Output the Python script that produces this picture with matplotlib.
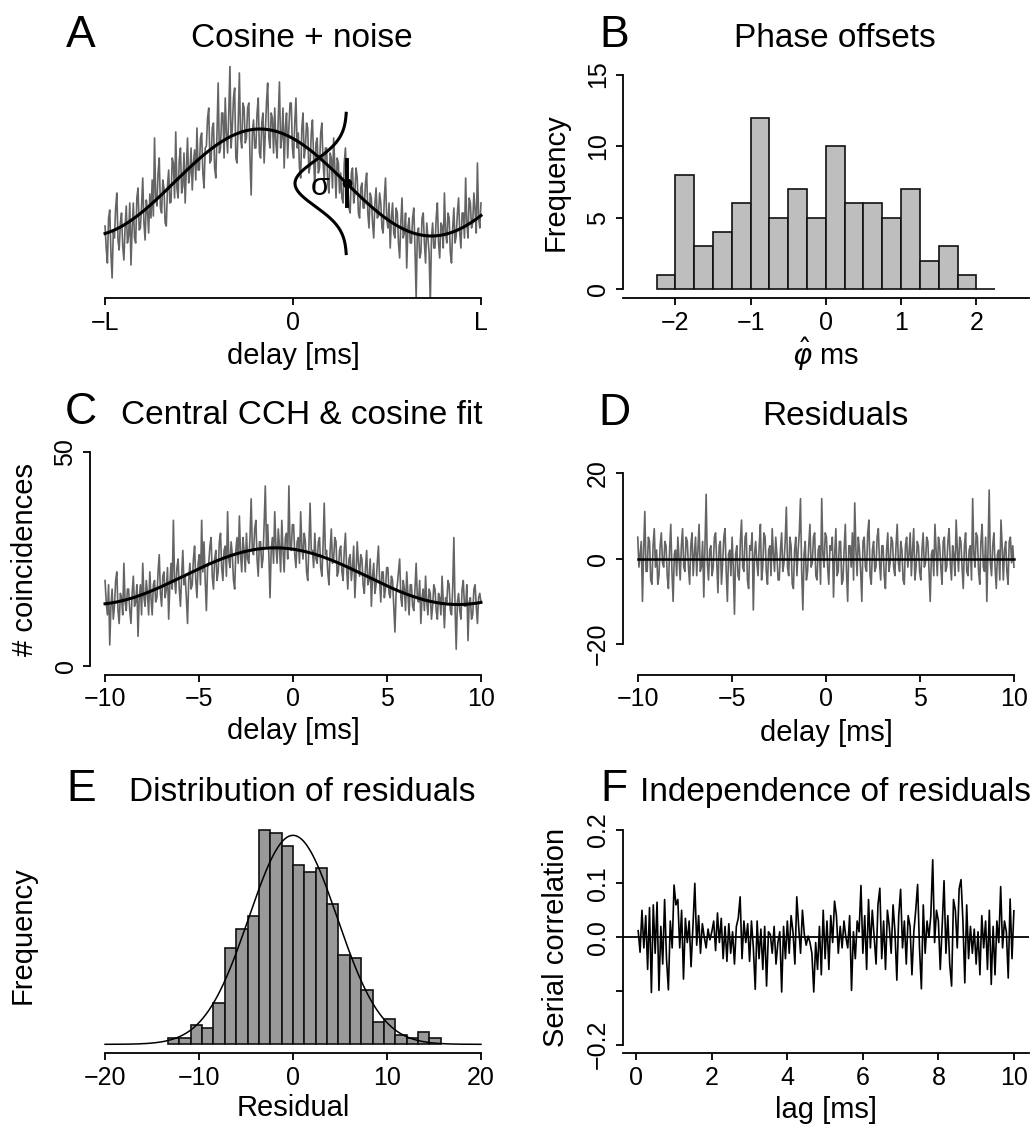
import numpy as np
import matplotlib
matplotlib.use("Agg")
import matplotlib.pyplot as plt

plt.rcParams['font.family'] = ['Liberation Sans', 'DejaVu Sans']
plt.rcParams['mathtext.fontset'] = 'dejavusans'

# ---------------- data ----------------
# A: simulated CCH (arbitrary units, height above axis), delay in units of L
A_vals = [
    72, 50, 35, 80, 88, 45, 20, 66, 60, 90, 105, 58, 48, 75, 85, 52, 38, 70, 92, 55,
    62, 95, 33, 70, 95, 60, 55, 100, 110, 68, 70, 92, 120, 75, 58, 98, 88, 65, 104, 80,
    118, 82, 160, 100, 92, 125, 140, 90, 85, 118, 110, 75, 72, 112, 128, 95, 96, 140, 135, 100,
    166, 110, 100, 138, 150, 105, 112, 145, 95, 130, 160, 115, 125, 150, 108, 135, 148, 118, 170, 128,
    128, 160, 165, 125, 110, 150, 152, 180, 190, 135, 138, 170, 175, 130, 120, 165, 215, 145, 150, 185,
    185, 140, 200, 165, 145, 185, 232, 150, 170, 200, 210, 140, 135, 175, 225, 160, 150, 195, 190, 155,
    160, 190, 195, 140, 103, 165, 178, 150, 150, 185, 200, 145, 140, 175, 185, 135, 165, 195, 215, 160,
    150, 185, 180, 145, 190, 155, 140, 180, 216, 150, 160, 190, 130, 170, 185, 140, 170, 195, 195, 150,
    140, 175, 200, 150, 165, 130, 120, 170, 185, 140, 150, 175, 170, 125, 132, 165, 178, 140, 110, 155,
    160, 125, 130, 165, 175, 135, 118, 150, 150, 115, 105, 145, 140, 110, 160, 130, 100, 140, 135, 105,
    125, 100, 95, 135, 150, 115, 110, 90, 85, 125, 130, 95, 105, 130, 120, 85, 80, 110, 115, 90,
    90, 115, 125, 85, 70, 105, 100, 75, 60, 95, 110, 80, 82, 105, 95, 70, 65, 100, 120, 80,
    70, 95, 50, 80, 95, 65, 60, 90, 85, 55, 40, 75, 100, 60, 65, 85, 30, 70, 80, 55,
    55, 80, 90, 50, 0, 65, 70, 40, 45, 80, 85, 55, 35, 75, 60, 45, -5, 60, 75, 50,
    50, 80, 95, 55, 40, 75, 72, 50, 105, 65, 55, 85, 80, 45, 35, 70, 90, 55, 62, 85,
    100, 65, 50, 85, 85, 60, 120, 75, 60, 100, 95, 70, 75, 105, 88, 65, 135, 80, 70, 95]
A_fit = dict(base=115.5, amp=53.5, period=1.826, peak=-0.176)
A_sigma = dict(x=0.2856, sd=23.0, width=0.275)
A_ticks = [-1, 0, 1]
A_ticklabels = ['\u2212L', '0', 'L']

# B: histogram of phase offsets
B_edges = [-2.25, -2.0, -1.75, -1.5, -1.25, -1.0, -0.75, -0.5, -0.25, 0.0,
           0.25, 0.5, 0.75, 1.0, 1.25, 1.5, 1.75, 2.0, 2.25]
B_counts = [1, 8, 3, 4, 6, 12, 5, 7, 5, 10, 6, 6, 5, 7, 2, 3, 1, 0]

# C: central CCH (counts) and cosine fit
C_vals = [
    20, 15, 12, 19, 5, 14, 18, 11, 14, 20, 22, 13, 10, 17, 16, 12, 24, 15, 13, 18,
    18, 13, 10, 17, 21, 14, 15, 19, 7, 16, 19, 12, 24, 16, 14, 20, 17, 12, 22, 16,
    12, 19, 20, 15, 16, 22, 26, 17, 14, 21, 22, 16, 18, 23, 11, 19, 24, 18, 34, 20,
    17, 23, 25, 18, 14, 21, 27, 19, 21, 16, 10, 20, 24, 18, 19, 25, 28, 20, 16, 24,
    26, 19, 34, 22, 29, 20, 13, 23, 24, 28, 30, 21, 18, 25, 27, 20, 22, 29, 31, 23,
    20, 27, 28, 21, 36, 25, 23, 29, 26, 20, 18, 27, 30, 24, 35, 26, 22, 30, 27, 22,
    31, 25, 24, 30, 39, 27, 26, 32, 34, 25, 21, 29, 29, 23, 25, 33, 42, 28, 33, 26,
    16, 27, 30, 24, 36, 28, 24, 32, 28, 22, 34, 27, 22, 30, 31, 25, 42, 28, 27, 33,
    33, 26, 23, 29, 30, 24, 36, 28, 25, 31, 29, 22, 20, 28, 38, 27, 27, 23, 31, 25,
    24, 29, 30, 23, 21, 28, 38, 26, 27, 22, 19, 27, 32, 24, 25, 30, 29, 21, 22, 27,
    28, 22, 20, 27, 31, 23, 18, 25, 26, 20, 23, 28, 16, 22, 29, 24, 21, 26, 25, 19,
    17, 23, 27, 19, 20, 25, 14, 21, 24, 17, 19, 24, 28, 20, 15, 22, 22, 16, 18, 23,
    23, 17, 16, 21, 20, 14, 8, 17, 19, 22, 25, 16, 14, 20, 18, 13, 22, 17, 12, 19,
    19, 14, 13, 18, 24, 16, 15, 20, 10, 16, 18, 13, 21, 15, 12, 18, 17, 11, 14, 19,
    18, 13, 11, 17, 16, 12, 21, 15, 9, 16, 15, 20, 19, 13, 12, 18, 30, 14, 4, 15,
    17, 13, 11, 18, 20, 14, 14, 19, 6, 15, 16, 11, 12, 18, 19, 14, 10, 16, 17, 15]
C_fit = dict(base=21.0, amp=6.6, period=19.5, peak=-0.96)

# D: residuals
D_vals = [
    5, -2, 1, 4, -10, 2, 11, -3, -3, 5, 4, -5, -6, 3, 7, -2, 2, -6, -4, 3,
    6, -1, -2, 4, 3, -4, -7, 2, 8, -3, -10, 1, 2, -4, 5, 0, -5, 3, 7, -2,
    -3, 5, 4, -2, -6, 3, 6, -4, 1, 5, -4, 2, 8, -3, -2, 4, -9, 3, 15, -1,
    -5, 2, 3, -4, -2, 5, 6, -1, -8, 3, 4, -6, -1, 5, 7, -3, -10, 1, 2, -4,
    5, -2, -13, 1, 3, -4, -5, 4, 9, -2, -3, 5, 6, -5, -7, 3, 2, 6, -12, 1,
    4, -1, -4, 3, 8, -5, -2, 6, 5, -3, -6, 2, 3, -4, 7, 1, -3, 5, 1, -5,
    -5, 2, 6, -3, -1, 4, 12, -2, -4, 5, 3, -6, -7, 2, 5, -4, 2, 6, 14, -3,
    -12, 1, 4, -5, -3, 3, 8, -2, -1, 5, 6, -4, -5, 2, 3, -6, 14, 1, -2, 6,
    5, -2, -6, 3, 2, 5, -9, 1, 7, -4, -3, 4, 4, -6, -5, 2, 8, -3, -10, 3,
    3, -2, 6, -5, 13, 2, -4, 5, 2, -3, -10, 4, 5, -2, -3, 6, 9, -4, -6, 2,
    4, -3, -2, 5, 7, -1, -5, 3, 3, -4, -7, 2, 6, -3, -1, 5, 4, -2, -4, 3,
    8, -1, -3, 4, 2, -5, -6, 3, 5, -2, 1, 6, -4, 2, 7, -5, -2, 4, 3, -3,
    -5, 2, 6, -2, -1, 5, 4, -3, -10, 1, 2, -4, 8, 2, -4, 5, 3, -2, -6, 4,
    5, -3, -2, 4, 7, -1, -5, 3, 1, -4, 9, 2, -3, 5, 4, -2, -7, 3, 6, -3,
    -4, 2, 3, -5, 14, 1, -2, 6, 5, -3, -6, 4, 8, -2, -3, 5, -10, 2, 16, -1,
    -4, 3, 6, -2, -7, 1, 2, -5, 9, 3, -5, 2, 4, -3, -6, 4, 5, -1, 3, -2]

# E: distribution of residuals
E_binwidth = 1.21
E_first_bin = -11
E_counts = [2, 2, 6, 5, 13, 30, 36, 40, 67, 66, 62, 56, 54, 55, 44, 28,
            27, 17, 7, 8, 3, 2, 4, 2]
E_norm = dict(mean=0.0, sd=4.7)

# F: serial correlation of residuals
F_lag_step = 0.05
F_vals = [
    0.012, -0.028, 0.05, -0.02, 0.04, -0.06, 0.055, -0.103, 0.06, -0.03,
    0.065, -0.099, 0.02, -0.05, 0.07, -0.04, -0.098, 0.03, -0.02, 0.097,
    0.06, 0.07, -0.02, 0.05, -0.078, 0.035, -0.01, 0.03, -0.055, 0.02,
    0.10, -0.015, 0.04, -0.03, 0.025, 0.0, -0.02, 0.015, -0.005, 0.01,
    0.03, -0.025, 0.045, -0.01, 0.035, -0.04, 0.02, -0.045, 0.025, -0.03,
    0.01, -0.05, 0.02, 0.035, 0.075, -0.04, 0.03, -0.01, 0.025, -0.045,
    0.03, -0.02, -0.097, 0.03, -0.04, 0.015, -0.06, 0.02, -0.091, 0.01,
    0.005, -0.03, 0.02, -0.05, -0.01, 0.01, -0.102, 0.02, -0.04, 0.03,
    -0.03, 0.04, 0.01, -0.05, 0.075, 0.02, -0.03, 0.05, 0.005, -0.015,
    0.002, -0.01, -0.03, -0.102, -0.01, -0.06, 0.02, -0.07, 0.05, -0.04,
    0.03, -0.06, 0.04, -0.01, 0.067, 0.04, -0.03, 0.02, -0.02, 0.03,
    0.0, -0.02, 0.04, -0.099, 0.01, -0.04, 0.03, 0.01, 0.096, -0.03,
    0.04, -0.06, 0.07, -0.02, 0.05, 0.0, -0.05, 0.06, 0.091, -0.04,
    0.03, -0.06, 0.05, 0.02, -0.03, 0.06, 0.01, -0.08, 0.04, 0.089,
    -0.02, 0.03, -0.05, 0.04, 0.02, -0.07, 0.01, 0.05, 0.098, -0.02,
    -0.096, 0.06, -0.03, 0.03, 0.0, 0.04, 0.144, -0.01, 0.05, 0.03,
    -0.06, 0.02, 0.105, -0.03, 0.04, -0.05, -0.091, 0.07, 0.05, -0.02,
    0.09, 0.107, 0.03, -0.085, 0.06, -0.04, 0.02, -0.03, 0.015, -0.05,
    0.01, -0.07, 0.04, -0.02, 0.03, -0.06, 0.05, -0.088, 0.02, -0.07,
    0.03, -0.01, 0.094, -0.02, 0.03, 0.01, -0.076, 0.071, -0.04, 0.049]

# ---------------- layout ----------------
W, H = 1033, 1125
fig = plt.figure(figsize=(W / 100, H / 100), dpi=100)

TRACE = '#646464'
TRACE_LW = 1.2
LW_AX = 1.3
TICK_FS = 18
LAB_FS = 21
TITLE_FS = 24
LET_FS = 32


def add_ax(x0, y0, x1, y1):
    return fig.add_axes([x0 / W, 1 - y1 / H, (x1 - x0) / W, (y1 - y0) / H])


def ftext(x, y, s, **kw):
    fig.text(x / W, 1 - y / H, s, **kw)


def style(ax, left=True):
    ax.spines['top'].set_visible(False)
    ax.spines['right'].set_visible(False)
    ax.spines['left'].set_visible(left)
    for s in ('left', 'bottom'):
        ax.spines[s].set_linewidth(LW_AX)
    ax.tick_params(direction='out', length=5, width=LW_AX, labelsize=TICK_FS, pad=4)
    if not left:
        ax.tick_params(axis='y', left=False, labelleft=False)
    ax.patch.set_alpha(0)


def yticks(ax, ticks, labels):
    ax.set_yticks(ticks)
    ax.set_yticklabels(labels, rotation=90, va='center', ha='right')


LX0, LX1 = 90, 496
RX0, RX1 = 622.7, 1029
ROWS = [(66, 298), (443, 675), (821, 1053.3)]


def header(col, row_base, letter, title):
    if col == 0:
        ftext(81, row_base, letter, fontsize=LET_FS, ha='center', va='baseline')
        ftext(302, row_base, title, fontsize=TITLE_FS, ha='center', va='baseline')
    else:
        ftext(614, row_base, letter, fontsize=LET_FS, ha='center', va='baseline')
        ftext(835, row_base, title, fontsize=TITLE_FS, ha='center', va='baseline')


# ---- A ----
ax = add_ax(LX0, ROWS[0][0], LX1, ROWS[0][1])
style(ax, left=False)
xa = np.linspace(-1, 1, len(A_vals))
ax.plot(xa, A_vals, color=TRACE, lw=TRACE_LW)
xs = np.linspace(-1, 1, 400)
ax.plot(xs, A_fit['base'] + A_fit['amp'] * np.cos(2 * np.pi * (xs - A_fit['peak']) / A_fit['period']),
        color='black', lw=2.2)
yc = A_fit['base'] + A_fit['amp'] * np.cos(2 * np.pi * (A_sigma['x'] - A_fit['peak']) / A_fit['period'])
hh = np.linspace(yc - 3.05 * A_sigma['sd'], yc + 3.05 * A_sigma['sd'], 200)
ax.plot(A_sigma['x'] - A_sigma['width'] * np.exp(-(hh - yc) ** 2 / (2 * A_sigma['sd'] ** 2)), hh,
        color='black', lw=2.2)
ax.plot([A_sigma['x'], A_sigma['x']], [yc - A_sigma['sd'], yc + A_sigma['sd']], color='black', lw=2.8)
ax.plot([A_sigma['x']], [yc], 'o', color='black', ms=6)
ax.text(0.1436, yc - 4, '\u03c3', fontsize=22, ha='center', va='center')
ax.set_xlim(-1.08, 1.08)
ax.set_ylim(0, 232)
ax.spines['bottom'].set_bounds(-1, 1)
ax.set_xticks(A_ticks)
ax.set_xticklabels(A_ticklabels)
header(0, 46.7, 'A', 'Cosine + noise')
ftext(293, 356, 'delay [ms]', fontsize=LAB_FS, ha='center', va='center')

# ---- B ----
ax = add_ax(RX0, ROWS[0][0], RX1, ROWS[0][1])
style(ax)
ax.bar(B_edges[:-1], B_counts, width=np.diff(B_edges), align='edge',
       color='#BEBEBE', edgecolor='#111111', lw=1.2)
ax.set_xlim(-2.7, 2.7)
ax.set_ylim(-0.6, 15.6)
ax.spines['left'].set_bounds(0, 15)
ax.set_xticks([-2, -1, 0, 1, 2])
ax.set_xticklabels(['\u22122', '\u22121', '0', '1', '2'])
yticks(ax, [0, 5, 10, 15], ['0', '5', '10', '15'])
header(1, 46.7, 'B', 'Phase offsets')
ftext(556, 182, 'Frequency', fontsize=LAB_FS, ha='center', va='center', rotation=90)
ftext(826, 354, r'$\hat{\varphi}$ ms', fontsize=LAB_FS, ha='center', va='center')

# ---- C ----
ax = add_ax(LX0, ROWS[1][0], LX1, ROWS[1][1])
style(ax)
xc = np.linspace(-10, 10, len(C_vals))
ax.plot(xc, C_vals, color=TRACE, lw=TRACE_LW)
xs = np.linspace(-10, 10, 400)
ax.plot(xs, C_fit['base'] + C_fit['amp'] * np.cos(2 * np.pi * (xs - C_fit['peak']) / C_fit['period']),
        color='black', lw=2.2)
ax.set_xlim(-10.8, 10.8)
ax.set_ylim(-2, 52)
ax.spines['bottom'].set_bounds(-10, 10)
ax.spines['left'].set_bounds(0, 50)
ax.set_xticks([-10, -5, 0, 5, 10])
ax.set_xticklabels(['\u221210', '\u22125', '0', '5', '10'])
yticks(ax, [0, 50], ['0', '50'])
header(0, 424, 'C', 'Central CCH & cosine fit')
ftext(25, 559, '# coincidences', fontsize=LAB_FS, ha='center', va='center', rotation=90)
ftext(293, 731, 'delay [ms]', fontsize=LAB_FS, ha='center', va='center')

# ---- D ----
ax = add_ax(RX0, ROWS[1][0], RX1, ROWS[1][1])
style(ax)
xd = np.linspace(-10, 10, len(D_vals))
ax.plot(xd, D_vals, color=TRACE, lw=TRACE_LW)
ax.plot([-10, 10], [0, 0], color='black', lw=1.8)
ax.set_xlim(-10.8, 10.8)
ax.set_ylim(-27.2, 27.0)
ax.spines['bottom'].set_bounds(-10, 10)
ax.spines['left'].set_bounds(-20, 20)
ax.set_xticks([-10, -5, 0, 5, 10])
ax.set_xticklabels(['\u221210', '\u22125', '0', '5', '10'])
yticks(ax, [-20, 0, 20], ['\u221220', '0', '20'])
header(1, 425, 'D', 'Residuals')
ftext(826, 733, 'delay [ms]', fontsize=LAB_FS, ha='center', va='center')

# ---- E ----
ax = add_ax(LX0, ROWS[2][0], LX1, ROWS[2][1])
style(ax, left=False)
E_edges = E_binwidth * np.arange(E_first_bin, E_first_bin + len(E_counts) + 1)
ax.bar(E_edges[:-1], E_counts, width=E_binwidth, align='edge',
       color='#999999', edgecolor='#111111', lw=1.2)
xs = np.linspace(-20, 20, 400)
N = sum(E_counts)
ax.plot(xs, N * E_binwidth / (np.sqrt(2 * np.pi) * E_norm['sd']) *
        np.exp(-(xs - E_norm['mean']) ** 2 / (2 * E_norm['sd'] ** 2)), color='black', lw=1.1)
ax.set_xlim(-21.6, 21.6)
ax.set_ylim(-2.8, 69.8)
ax.spines['bottom'].set_bounds(-20, 20)
ax.set_xticks([-20, -10, 0, 10, 20])
ax.set_xticklabels(['\u221220', '\u221210', '0', '10', '20'])
header(0, 801, 'E', 'Distribution of residuals')
ftext(23, 935, 'Frequency', fontsize=LAB_FS, ha='center', va='center', rotation=90)
ftext(293, 1108, 'Residual', fontsize=LAB_FS, ha='center', va='center')

# ---- F ----
ax = add_ax(RX0, ROWS[2][0], RX1, ROWS[2][1])
style(ax)
lags = F_lag_step * np.arange(1, len(F_vals) + 1)
ax.plot(lags, F_vals, color='black', lw=1.2)
ax.axhline(0, color='black', lw=1.3)
ax.set_xlim(-0.36, 10.4)
ax.set_ylim(-0.216, 0.216)
ax.spines['left'].set_bounds(-0.2, 0.2)
ax.set_xticks([0, 2, 4, 6, 8, 10])
yticks(ax, [-0.2, -0.1, 0.0, 0.1, 0.2], ['\u22120.2', '', '0.0', '0.1', '0.2'])
header(1, 801, 'F', 'Independence of residuals')
ftext(556, 937, 'Serial correlation', fontsize=LAB_FS, ha='center', va='center', rotation=90)
ftext(826, 1110, 'lag [ms]', fontsize=LAB_FS, ha='center', va='center')

fig.savefig('out.png', dpi=100)
